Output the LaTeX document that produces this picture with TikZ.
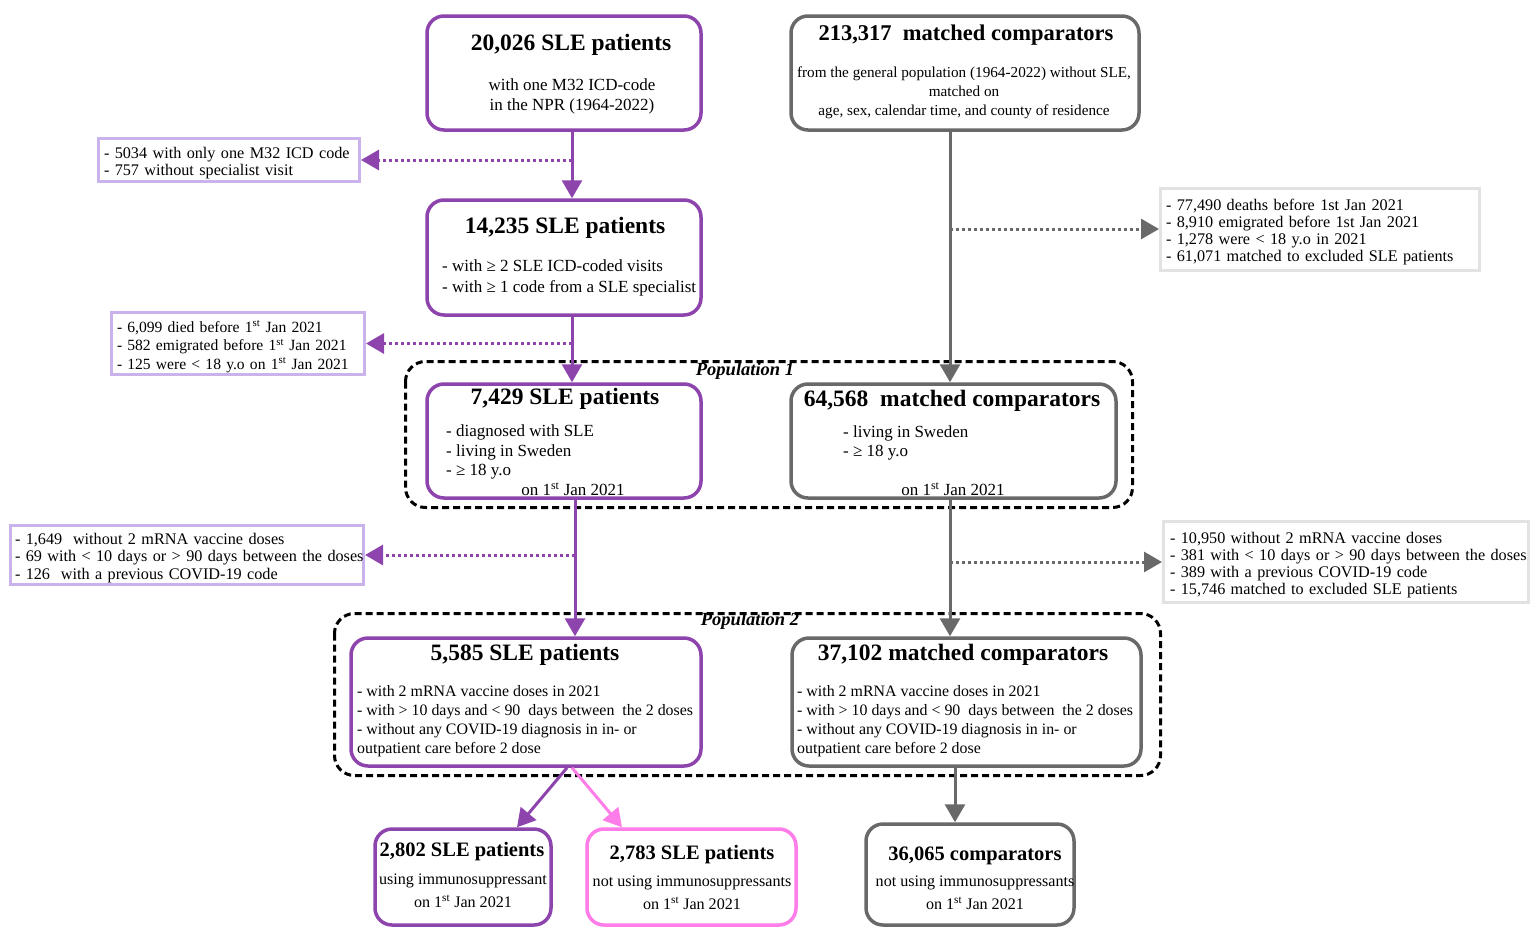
\documentclass[tikz,border=0pt]{standalone}
\usepackage{fontspec}
\setmainfont{Liberation Serif}
\usetikzlibrary{arrows.meta}

\definecolor{slepurple}{RGB}{142,68,173}
\definecolor{slelight}{RGB}{202,178,236}
\definecolor{cmpgray}{RGB}{105,105,105}
\definecolor{cmplight}{RGB}{226,226,226}
\definecolor{slepink}{RGB}{255,125,232}

\newcommand{\fhead}{\fontsize{23.5}{26}\selectfont\bfseries}
\newcommand{\fsmallhead}{\fontsize{20.5}{23}\selectfont\bfseries}
\newcommand{\fbody}{\fontsize{17}{20}\selectfont}
\newcommand{\flist}{\fontsize{15.9}{19.2}\selectfont}
\newcommand{\fnarrow}{\fontsize{15.2}{19}\selectfont}
\newcommand{\fsub}{\fontsize{16.1}{23}\selectfont}
\newcommand{\fex}{\fontsize{16.2}{17.3}\selectfont}
\newcommand{\fpop}{\fontsize{18.5}{20}\selectfont\bfseries\itshape}
\newcommand{\exlines}[1]{\raisebox{-3.5pt}[\height][\depth]{\begin{tabular}{@{}l@{}}#1\end{tabular}}}

\begin{document}
\begin{tikzpicture}[x=1pt,y=1pt,yscale=-1,
  slebox/.style={draw=slepurple,line width=3.5pt,rounded corners=17pt,fill=white,inner sep=0pt},
  cmpbox/.style={draw=cmpgray,line width=3.5pt,rounded corners=17pt,fill=white,inner sep=0pt},
  pinkbox/.style={draw=slepink,line width=3.5pt,rounded corners=17pt,fill=white,inner sep=0pt},
  exsle/.style={draw=slelight,line width=3pt,inner xsep=5.5pt,inner ysep=0pt,align=left,font=\fex},
  excmp/.style={draw=cmplight,line width=3pt,inner xsep=5.5pt,inner ysep=0pt,align=left,font=\fex},
  popbox/.style={draw=black,line width=3pt,dash pattern=on 7pt off 4pt,rounded corners=20pt},
  poplabel/.style={inner sep=0pt,font=\fpop},
  head/.style={inner sep=0pt,font=\fhead},
  smallhead/.style={inner sep=0pt,font=\fsmallhead},
  body/.style={inner sep=0pt,font=\fbody,align=left},
  listbody/.style={inner sep=0pt,font=\flist,align=left,anchor=west},
  subbody/.style={inner sep=0pt,font=\fsub,align=center},
  flow/.style={line width=3pt,-{Triangle[length=18pt,width=20pt]}},
  drop/.style={line width=3pt,dash pattern=on 3pt off 3pt,-{Triangle[length=18pt,width=20pt]}}
]
%set diagram size
\path[use as bounding box] (0,0) rectangle (1531,929);

%Shape: Population boxes
\draw[popbox] (405.5,361.5) rectangle (1132.5,507.5);
\draw[popbox] (334.5,613.5) rectangle (1160.5,775.5);
% Text Node
\node[poplabel] (pop1) at (745,371.5) {Population 1};
% Text Node
\node[poplabel] (pop2) at (750,621.5) {Population 2};

%Shape: SLE boxes
\node[slebox,minimum width=274pt,minimum height=114pt] (sle0) at (564,73) {};
\node[slebox,minimum width=274pt,minimum height=115pt] (sle1) at (564,257.5) {};
\node[slebox,minimum width=274pt,minimum height=114pt] (sle2) at (564,441) {};
\node[slebox,minimum width=350pt,minimum height=128pt] (sle3) at (526,702) {};
\node[slebox,minimum width=176pt,minimum height=96pt] (sleon) at (463,877) {};
\node[pinkbox,minimum width=209pt,minimum height=96pt] (sleoff) at (691.5,877) {};

%Shape: comparator boxes
\node[cmpbox,minimum width=348pt,minimum height=114pt] (cmp0) at (965,73) {};
\node[cmpbox,minimum width=325pt,minimum height=114pt] (cmp1) at (953.5,441) {};
\node[cmpbox,minimum width=349pt,minimum height=128pt] (cmp2) at (966.5,702) {};
\node[cmpbox,minimum width=208pt,minimum height=101pt] (cmpoff) at (970,874.5) {};

% Text Node
\node[head] (sle0 head) at (571,45) {20,026 SLE patients};
\node[body,align=center] (sle0 body) at (572,96) {with one M32 ICD-code\\ in the NPR (1964-2022)};
% Text Node
\node[head,font=\fontsize{22.5}{26}\selectfont\bfseries] (cmp0 head) at (966,35) {213,317\ \ matched comparators};
\node[body,font=\fnarrow,align=center] (cmp0 body) at (964,93) {from the general population (1964-2022) without SLE,\\ matched on\\ age, sex, calendar time, and county of residence};
% Text Node
\node[head] (sle1 head) at (565,228) {14,235 SLE patients};
\node[body,anchor=west,font=\fontsize{17}{21}\selectfont] (sle1 body) at (442,278) {- with ≥ 2 SLE ICD-coded visits\\- with ≥ 1 code from a SLE specialist};
% Text Node
\node[head] (sle2 head) at (565,399) {7,429 SLE patients};
\node[body,anchor=west,font=\fontsize{17}{19.3}\selectfont] (sle2 body) at (446,452) {- diagnosed with SLE\\- living in Sweden\\- ≥ 18 y.o};
\node[body] (sle2 date) at (573,489) {on 1\textsuperscript{st} Jan 2021};
% Text Node
\node[head] (cmp1 head) at (952,401) {64,568\ \ matched comparators};
\node[body,anchor=west,font=\fontsize{17}{19.3}\selectfont] (cmp1 body) at (843,443) {- living in Sweden\\- ≥ 18 y.o};
\node[body] (cmp1 date) at (953,489) {on 1\textsuperscript{st} Jan 2021};
% Text Node
\node[head] (sle3 head) at (525,655) {5,585 SLE patients};
\node[listbody] (sle3 body) at (357,721) {- with 2 mRNA vaccine doses in 2021\\- with > 10 days and < 90\ \ days between\ \ the 2 doses\\- without any COVID-19 diagnosis in in- or\\outpatient care before 2 dose};
% Text Node
\node[head] (cmp2 head) at (963,655) {37,102 matched comparators};
\node[listbody] (cmp2 body) at (797,721) {- with 2 mRNA vaccine doses in 2021\\- with > 10 days and < 90\ \ days between\ \ the 2 doses\\- without any COVID-19 diagnosis in in- or\\outpatient care before 2 dose};
% Text Node
\node[smallhead] (sleon head) at (462,852) {2,802 SLE patients};
\node[subbody] (sleon body) at (463,891) {using immunosuppressant\\on 1\textsuperscript{st} Jan 2021};
% Text Node
\node[smallhead] (sleoff head) at (692,855) {2,783 SLE patients};
\node[subbody] (sleoff body) at (692,893) {not using immunosuppressants\\on 1\textsuperscript{st} Jan 2021};
% Text Node
\node[smallhead] (cmpoff head) at (975,856) {36,065 comparators};
\node[subbody] (cmpoff body) at (975,893) {not using immunosuppressants\\on 1\textsuperscript{st} Jan 2021};

%Shape: exclusion boxes
\node[exsle,text width=250pt,minimum height=43pt] (ex1) at (229,160) {\exlines{- 5034 with only one M32 ICD code\\- 757 without specialist visit}};
\node[excmp,text width=308pt,minimum height=82pt] (ex2) at (1320,229) {\exlines{- 77,490 deaths before 1st Jan 2021\\- 8,910 emigrated before 1st Jan 2021\\- 1,278 were < 18 y.o in 2021\\- 61,071 matched to excluded SLE patients}};
\node[exsle,text width=242pt,minimum height=62pt,font=\fontsize{15.6}{18.5}\selectfont] (ex3) at (238,343.5) {\exlines{- 6,099 died before 1\textsuperscript{st} Jan 2021\\- 582 emigrated before 1\textsuperscript{st} Jan 2021\\- 125 were < 18 y.o on 1\textsuperscript{st} Jan 2021}};
\node[exsle,text width=344pt,minimum height=59pt,inner xsep=4.5pt] (ex4) at (187,555) {\exlines{- 1,649\ \ without 2 mRNA vaccine doses\\- 69 with < 10 days or > 90 days between the doses\\- 126\ \ with a previous COVID-19 code}};
\node[excmp,text width=352pt,minimum height=81pt,inner xsep=6.5pt] (ex5) at (1346,562) {\exlines{- 10,950 without 2 mRNA vaccine doses\\- 381 with < 10 days or > 90 days between the doses\\- 389 with a previous COVID-19 code\\- 15,746 matched to excluded SLE patients}};

%Straight Lines: junctions
\coordinate (j1) at (572,160);
\coordinate (j2) at (950,229);
\coordinate (j3) at (572,343.5);
\coordinate (j4) at (575,555);
\coordinate (j5) at (950,562);
\coordinate (j6) at (955,795);

%Straight Lines
\draw[flow,slepurple] (sle0.south -| j1) -- (sle1.north -| j1);
\draw[drop,slepurple] (j1) -- (ex1.east);
\draw[flow,slepurple] (sle1.south -| j3) -- (sle2.north -| j3);
\draw[drop,slepurple] (j3) -- (ex3.east);
\draw[flow,slepurple] (sle2.south -| j4) -- (sle3.north -| j4);
\draw[drop,slepurple] (j4) -- (ex4.east);
\draw[flow,slepurple] ([xshift=41pt]sle3.south) -- ([xshift=54pt]sleon.north);
\draw[flow,slepink] ([xshift=46pt]sle3.south) -- ([xshift=-69.5pt]sleoff.north);

%Straight Lines
\draw[flow,cmpgray] (cmp0.south -| j2) -- (cmp1.north -| j2);
\draw[drop,cmpgray] (j2) -- (ex2.west);
\draw[flow,cmpgray] (cmp1.south -| j5) -- (cmp2.north -| j5);
\draw[drop,cmpgray] (j5) -- (ex5.west);
\draw[flow,cmpgray] (cmp2.south -| j6) -- (cmpoff.north -| j6);

\end{tikzpicture}
\end{document}
